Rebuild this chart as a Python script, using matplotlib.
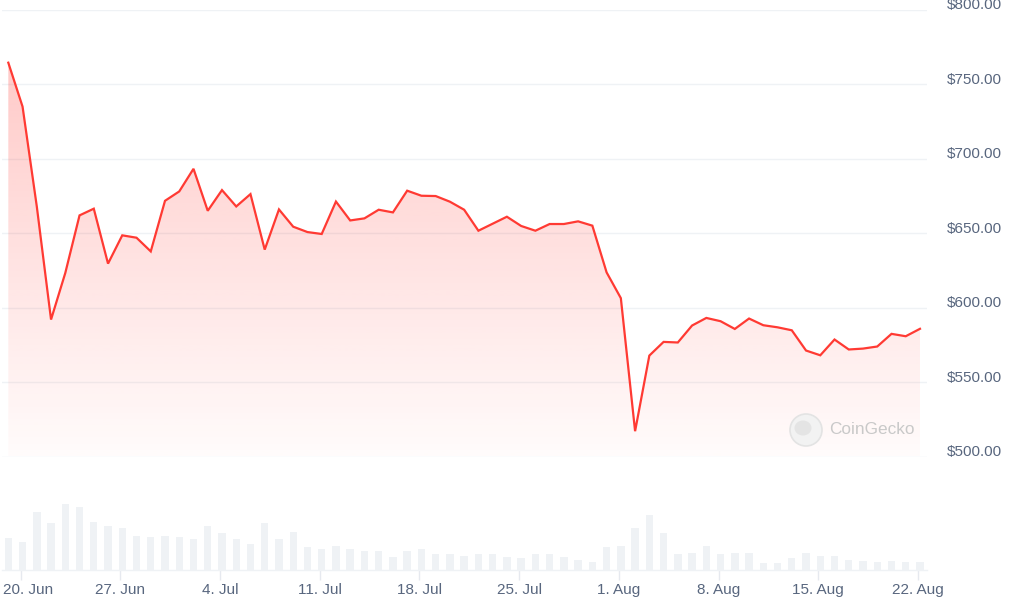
import numpy as np
import pandas as pd
import matplotlib
matplotlib.use("Agg")
import matplotlib.pyplot as plt
import matplotlib.dates as mdates
from matplotlib.patches import Circle, Ellipse
from matplotlib.transforms import ScaledTranslation

# ---------------- data ----------------
start = "2024-06-19 03:20"
prices = [764.6, 735.1, 668.0, 592.0, 623.3, 662.0, 666.5, 629.6, 648.6, 647.0,
          637.8, 671.8, 678.1, 693.3, 665.1, 679.0, 668.0, 676.3, 639.0, 666.0,
          654.4, 650.8, 649.5, 671.3, 658.6, 660.0, 665.8, 664.0, 678.6, 675.2,
          675.0, 671.2, 665.8, 651.7, 656.4, 661.1, 654.9, 651.7, 656.2, 656.2,
          658.0, 655.1, 623.7, 606.4, 517.0, 567.8, 577.0, 576.6, 588.0, 593.1,
          590.9, 585.7, 592.7, 588.2, 586.8, 584.8, 571.2, 568.0, 578.6, 571.9,
          572.5, 573.9, 582.4, 580.8, 585.8]
# volume bars, relative heights
volumes = [31.7, 28.0, 58.0, 47.0, 65.7, 63.3, 48.0, 44.3, 41.7, 34.3,
           33.0, 34.3, 33.0, 30.7, 44.3, 37.0, 30.7, 25.7, 47.0, 30.7,
           38.0, 23.0, 20.7, 24.3, 20.7, 19.3, 19.3, 13.0, 19.3, 20.7,
           15.7, 15.7, 14.3, 15.7, 15.7, 13.0, 12.0, 15.7, 15.7, 13.0,
           10.5, 8.2, 23.0, 24.3, 41.7, 55.5, 37.0, 15.7, 17.0, 24.3,
           15.7, 17.0, 17.0, 7.0, 7.0, 12.0, 17.0, 14.3, 14.3, 10.5,
           9.2, 8.0, 9.2, 8.0, 8.0]
tick_dates = pd.date_range("2024-06-20", "2024-08-22", freq="7D")
tick_labels = ["20. Jun", "27. Jun", "4. Jul", "11. Jul", "18. Jul",
               "25. Jul", "1. Aug", "8. Aug", "15. Aug", "22. Aug"]
price_ticks = [500, 550, 600, 650, 700, 750, 800]

dates = pd.date_range(start, periods=len(prices), freq="D")
xs = mdates.date2num(dates)

# ---------------- figure ----------------
W, H = 1011, 602
fig = plt.figure(figsize=(W / 100, H / 100), dpi=100)
plt.rcParams['font.family'] = ['Liberation Sans', 'DejaVu Sans']

line_col = '#ff3a33'
grid_col = '#eff2f5'
text_col = '#58667e'

x_lo = xs[0] - 6.3 / 14.23
x_hi = xs[-1] + 7.0 / 14.23

# price panel
ax = fig.add_axes([2 / W, (H - 456.5) / H, 925 / W, 446.5 / H])
ax.plot(xs, prices, color=line_col, lw=1.6, zorder=3, solid_joinstyle='miter')
poly = ax.fill_between(xs, prices, 500, color='none', lw=0)
grad = np.zeros((256, 1, 4))
grad[:, 0, 0] = 1.0
grad[:, 0, 1] = 58 / 255
grad[:, 0, 2] = 51 / 255
grad[:, 0, 3] = np.linspace(0.02, 0.27, 256)
im = ax.imshow(grad, extent=[x_lo, x_hi, 500, max(prices)], aspect='auto',
               origin='lower', zorder=2, interpolation='bilinear')
im.set_clip_path(poly.get_paths()[0], ax.transData)

ax.set_xlim(x_lo, x_hi)
ax.set_ylim(500, 800)
ax.set_yticks(price_ticks)
ax.set_yticklabels([f"${v:,.2f}" for v in price_ticks])
ax.yaxis.tick_right()
ax.tick_params(axis='y', length=0, pad=14, labelsize=11, labelcolor=text_col)
for lab in ax.get_yticklabels():
    lab.set_horizontalalignment('left')
    lab.set_transform(lab.get_transform() + ScaledTranslation(0, 6 / 100, fig.dpi_scale_trans))
ax.set_xticks([])
ax.grid(axis='y', color=grid_col, lw=1)
ax.set_axisbelow(True)
for s in ax.spines.values():
    s.set_visible(False)

# volume panel
axv = fig.add_axes([2 / W, (H - 570) / H, 925 / W, 70 / H])
axv.bar(xs, volumes, width=0.52, color='#eff2f5', lw=0)
axv.set_xlim(x_lo, x_hi)
axv.set_ylim(0, 70)
axv.set_yticks([])
axv.set_xticks(mdates.date2num(tick_dates))
axv.set_xticklabels(tick_labels)
axv.tick_params(axis='x', length=7.5, width=1, color='#e6e9ef', pad=2,
                labelsize=11, labelcolor=text_col)
labs = axv.get_xticklabels()
labs[0].set_transform(labs[0].get_transform() + ScaledTranslation(7.5 / 100, 0, fig.dpi_scale_trans))
for k, s in axv.spines.items():
    s.set_visible(k == 'bottom')
axv.spines['bottom'].set_color('#eff2f5')
axv.spines['bottom'].set_linewidth(1)

# CoinGecko watermark
fig.add_artist(Circle((806 / 100, (H - 430) / 100), 0.16, transform=fig.dpi_scale_trans,
                      facecolor='#f2f2f2', edgecolor='#e3e3e3', lw=1.2, zorder=5))
fig.add_artist(Ellipse((803 / 100, (H - 428) / 100), 0.17, 0.15, transform=fig.dpi_scale_trans,
                       facecolor='#e4e4e4', edgecolor='none', zorder=6))
fig.text(829 / W, (H - 430) / H, "CoinGecko", fontsize=12.4, color='#c9c9c9',
         va='center', ha='left', zorder=6)

fig.savefig("out.png", dpi=100, facecolor='white')
